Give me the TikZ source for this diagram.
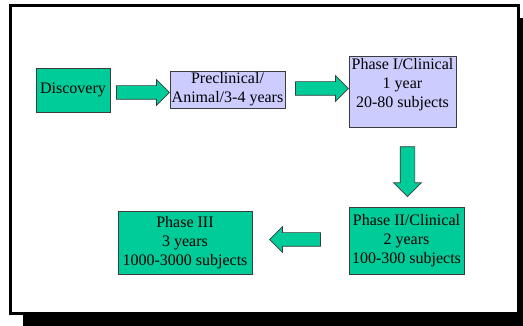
\documentclass[tikz,border=0pt]{standalone}
\usepackage{fontspec}
\setmainfont{Liberation Serif}
\usetikzlibrary{shapes.arrows}
\definecolor{boxgreen}{RGB}{0,204,153}
\definecolor{boxlav}{RGB}{204,204,255}
\definecolor{edgegray}{RGB}{60,60,60}
\tikzset{
  stagebox/.style={draw=edgegray, line width=0.9pt, inner sep=0pt, align=center,
    font=\fontsize{16}{19}\selectfont},
  greenbox/.style={stagebox, fill=boxgreen},
  lavbox/.style={stagebox, fill=boxlav},
  blockarrow/.style={single arrow, draw=edgegray, fill=boxgreen, line width=0.7pt,
    inner sep=6.5pt, single arrow head extend=6pt,
    single arrow tip angle=90}
}
\begin{document}
\begin{tikzpicture}[x=1pt,y=-1pt]
\useasboundingbox (0,0) rectangle (523,326);
% shadow and frame
\fill[black] (23,18) rectangle (523,326);
\draw[fill=white, line width=3pt] (10.5,5.5) rectangle (518.5,313.5);
% boxes
\node[greenbox, minimum width=74pt, minimum height=44pt] (disc) at (73,90) {Discovery};
\node[lavbox, minimum width=115pt, minimum height=37pt] (pre) at (227.5,89.5) {Preclinical/\\Animal/3-4 years};
\node[lavbox, minimum width=107pt, minimum height=71pt] (p1) at (402.5,91.5) {};
\node[stagebox, draw=none, anchor=north, inner sep=0pt] (p1t) at ([yshift=-2pt]p1.north) {Phase I/Clinical\\1 year\\20-80 subjects};
\node[greenbox, minimum width=115pt, minimum height=67pt] (p2) at (406.5,240.5) {Phase II/Clinical\\2 years\\100-300 subjects};
\node[greenbox, minimum width=134pt, minimum height=63pt] (p3) at (185,242.5) {Phase III\\3 years\\1000-3000 subjects};
% block arrows
\node[blockarrow, minimum height=53pt] (a1) at (139.5,92.5) {};
\node[blockarrow, minimum height=53pt] (a2) at (318.5,88.5) {};
\node[blockarrow, minimum height=50pt, inner sep=7pt, single arrow head extend=6.5pt, shape border rotate=270] (a3) at (407.5,168) {};
\node[blockarrow, minimum height=51pt, shape border rotate=180] (a4) at (298.5,239.5) {};
\end{tikzpicture}
\end{document}
